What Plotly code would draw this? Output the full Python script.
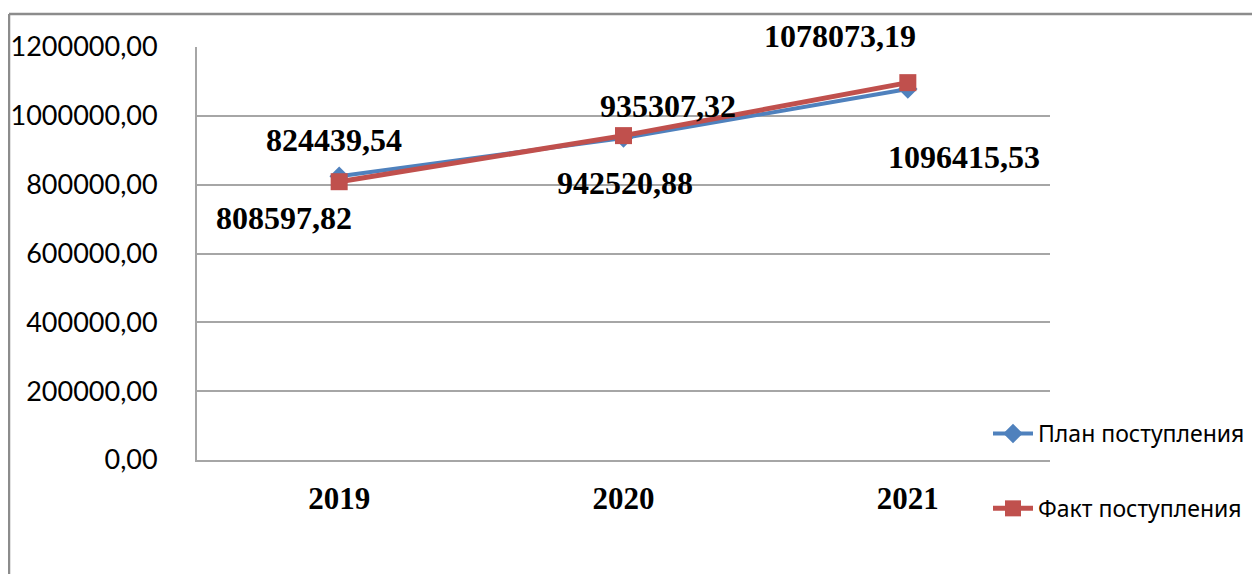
import plotly.graph_objects as go

years = ["2019", "2020", "2021"]
plan = [824439.54, 935307.32, 1078073.19]
fact = [808597.82, 942520.88, 1096415.53]
plan_labels = ["824439,54", "935307,32", "1078073,19"]
fact_labels = ["808597,82", "942520,88", "1096415,53"]
y_ticks = [0, 200000, 400000, 600000, 800000, 1000000, 1200000]
y_tick_text = ["0,00", "200000,00", "400000,00", "600000,00", "800000,00", "1000000,00", "1200000,00"]

BLUE = "#4F81BD"
RED = "#C0504D"
GRID = "#A6A6A6"

W, H = 1260, 574
OFF = 8  # page offset of the figure
L, R, T, B = 197 - OFF, 1260 - 1050 + OFF, 47 - OFF, 574 - 460 + OFF

fig = go.Figure()
fig.add_trace(go.Scatter(
    x=years, y=plan, name="План поступления", mode="lines+markers",
    line=dict(color=BLUE, width=4), marker=dict(symbol="diamond", size=15, color=BLUE),
    legendgroup="a"))
fig.add_trace(go.Scatter(
    x=years, y=fact, name="Факт поступления", mode="lines+markers",
    line=dict(color=RED, width=5), marker=dict(symbol="square", size=17, color=RED),
    legendgroup="b"))

plan_off = [(-5, 36), (44, 32), (-68, 53)]
fact_off = [(-55, -36), (1, -47), (56, -74)]
for lbls, vals, offs in ((plan_labels, plan, plan_off), (fact_labels, fact, fact_off)):
    for i, (yv, t, (dx, dy)) in enumerate(zip(vals, lbls, offs)):
        fig.add_annotation(x=i, y=yv, text="<b>" + t + "</b>", showarrow=False,
                           xshift=dx, yshift=dy,
                           font=dict(family="Liberation Serif", size=32, color="black"))

pw, ph = W - L - R, H - T - B
def px_x(p):
    return (p - OFF - L) / pw
def px_y(p):
    return (H - B - (p - OFF)) / ph

border = dict(color="#8C8C8C", width=2.5)
fig.add_shape(type="line", xref="paper", yref="paper", x0=px_x(9), x1=px_x(1275),
              y0=px_y(14), y1=px_y(14), line=border)
fig.add_shape(type="line", xref="paper", yref="paper", x0=px_x(9), x1=px_x(9),
              y0=px_y(14), y1=px_y(590), line=border)

fig.update_layout(
    width=W, height=H, margin=dict(l=L, r=R, t=T, b=B, autoexpand=False),
    paper_bgcolor="white", plot_bgcolor="white",
    xaxis=dict(type="category", showgrid=False, showline=True, linecolor=GRID, linewidth=2,
               ticks="", ticklabelstandoff=10, range=[-0.5, 2.5],
               tickvals=[0, 1, 2], ticktext=["<b>" + y + "</b>" for y in years],
               tickfont=dict(family="Liberation Serif", size=31, color="black")),
    yaxis=dict(range=[0, 1200000], tickvals=y_ticks, ticktext=y_tick_text,
               showgrid=True, gridcolor=GRID, gridwidth=2, showline=True, linecolor=GRID,
               linewidth=2, ticks="", ticklabelstandoff=32, zeroline=False,
               tickfont=dict(family="Lato", size=27, color="black")),
    legend=dict(x=px_x(988), y=px_y(412), xanchor="left", yanchor="top",
                font=dict(family="Noto Sans", size=23, color="black"),
                tracegroupgap=42, itemwidth=40, bgcolor="rgba(0,0,0,0)"),
    showlegend=True,
)

fig.write_html("out.html")
